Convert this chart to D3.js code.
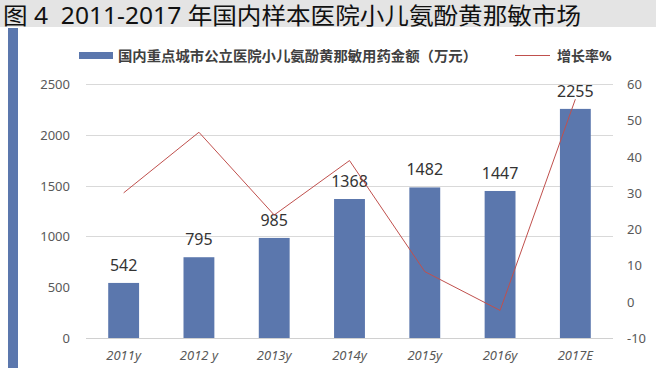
<!DOCTYPE html>
<html>
<head>
<meta charset="utf-8">
<script src="https://cdn.jsdelivr.net/npm/d3@7"></script>
<style>
  body { margin: 0; background: #fff; }
  svg { display: block; }
  text { font-family: "Noto Sans", "Noto Sans CJK SC", sans-serif; white-space: pre; }
</style>
</head>
<body>
<svg id="chart" width="656" height="368"></svg>
<script>
// chart data
const years = ["2011y", "2012 y", "2013y", "2014y", "2015y", "2016y", "2017E"];
const amounts = [542, 795, 985, 1368, 1482, 1447, 2255];
const growth = [30.0, 46.7, 23.9, 38.9, 8.3, -2.4, 55.8];
const leftTicks = [0, 500, 1000, 1500, 2000, 2500];
const rightTicks = [-10, 0, 10, 20, 30, 40, 50, 60];

const svg = d3.select("#chart");
const W = 656, H = 368;
const plotL = 86, plotR = 613, plotT = 84, plotB = 338;

// title band
svg.append("rect")
    .attr("x", 0).attr("y", 0).attr("width", W).attr("height", 27)
    .attr("fill", "#e4e4e4");
svg.append("text")
    .attr("x", 3).attr("y", 24)
    .attr("font-family", "'Noto Sans CJK SC', sans-serif")
    .attr("font-size", 23)
    .attr("fill", "#111")
    .attr("textLength", 578)
    .attr("lengthAdjust", "spacingAndGlyphs")
    .text("图 4  2011-2017 年国内样本医院小儿氨酚黄那敏市场");

// left accent bar
svg.append("rect")
    .attr("x", 8).attr("y", 28).attr("width", 10).attr("height", H - 28)
    .attr("fill", "#5b77ad");

// scales
const x = d3.scaleBand().domain(years).range([plotL, plotR]).paddingInner(0.59).paddingOuter(0.295);
const yL = d3.scaleLinear().domain([0, 2500]).range([plotB, plotT]);
const yR = d3.scaleLinear().domain([-10, 60]).range([plotB, plotT]);

// gridlines
svg.append("g")
    .selectAll("line")
    .data(leftTicks.filter(d => d >= 1000))
    .join("line")
    .attr("x1", plotL).attr("x2", plotR)
    .attr("y1", d => Math.round(yL(d)) + 0.5).attr("y2", d => Math.round(yL(d)) + 0.5)
    .attr("stroke", "#d9d9d9").attr("stroke-width", 1);

// left axis labels
svg.append("g")
    .selectAll("text")
    .data(leftTicks)
    .join("text")
    .attr("x", 70).attr("y", d => yL(d) + 5)
    .attr("text-anchor", "end")
    .attr("font-size", 13).attr("fill", "#595959")
    .text(d => d);

// right axis labels
svg.append("g")
    .selectAll("text")
    .data(rightTicks)
    .join("text")
    .attr("x", 627).attr("y", d => yR(d) + 5)
    .attr("text-anchor", "start")
    .attr("font-size", 13).attr("fill", "#595959")
    .text(d => d);

// bars
svg.append("g")
    .selectAll("rect")
    .data(amounts)
    .join("rect")
    .attr("x", (d, i) => x(years[i]))
    .attr("y", d => yL(d))
    .attr("width", x.bandwidth())
    .attr("height", d => plotB - yL(d))
    .attr("fill", "#5b77ad");

// baseline
svg.append("line")
    .attr("x1", plotL).attr("x2", plotR)
    .attr("y1", plotB + 0.5).attr("y2", plotB + 0.5)
    .attr("stroke", "#d0d0d0");

// bar labels
svg.append("g")
    .selectAll("text")
    .data(amounts)
    .join("text")
    .attr("x", (d, i) => x(years[i]) + x.bandwidth() / 2)
    .attr("y", d => yL(d) - 12)
    .attr("text-anchor", "middle")
    .attr("font-size", 16).attr("fill", "#333")
    .text(d => d);

// growth line
const line = d3.line()
    .x((d, i) => x(years[i]) + x.bandwidth() / 2)
    .y(d => yR(d));
svg.append("path")
    .datum(growth)
    .attr("d", line)
    .attr("fill", "none")
    .attr("stroke", "#c0504d")
    .attr("stroke-width", 1);

// x labels
svg.append("g")
    .selectAll("text")
    .data(years)
    .join("text")
    .attr("x", d => x(d) + x.bandwidth() / 2)
    .attr("y", 360)
    .attr("text-anchor", "middle")
    .attr("font-size", 13).attr("font-style", "italic").attr("fill", "#595959")
    .text(d => d);

// legend
const lg = svg.append("g");
lg.append("rect")
    .attr("x", 79).attr("y", 52).attr("width", 34).attr("height", 7)
    .attr("fill", "#5b77ad");
lg.append("text")
    .attr("x", 118).attr("y", 61)
    .attr("font-family", "'Noto Sans CJK SC', sans-serif")
    .attr("font-size", 14).attr("font-weight", "bold").attr("fill", "#404040")
    .attr("textLength", 359).attr("lengthAdjust", "spacingAndGlyphs")
    .text("国内重点城市公立医院小儿氨酚黄那敏用药金额（万元）");
lg.append("line")
    .attr("x1", 515).attr("x2", 550).attr("y1", 55.5).attr("y2", 55.5)
    .attr("stroke", "#c0504d").attr("stroke-width", 1);
lg.append("text")
    .attr("x", 557).attr("y", 61)
    .attr("font-family", "'Noto Sans CJK SC', sans-serif")
    .attr("font-size", 14).attr("font-weight", "bold").attr("fill", "#404040")
    .text("增长率%");
</script>
</body>
</html>
